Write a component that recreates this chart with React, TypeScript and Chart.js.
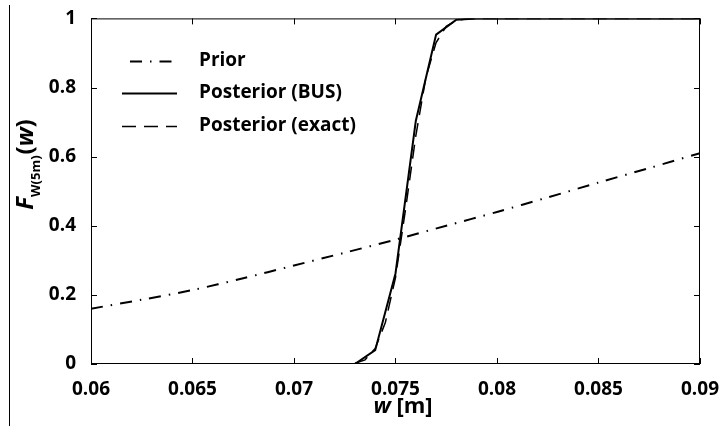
import React, { useEffect, useRef } from "react";
import { Chart, registerables } from "chart.js";

Chart.register(...registerables);

const xTickValues = [0.06, 0.065, 0.07, 0.075, 0.08, 0.085, 0.09];
const xTickLabels = ["0.06", "0.065", "0.07", "0.075", "0.08", "0.085", "0.09"];
const yTickValues = [0, 0.2, 0.4, 0.6, 0.8, 1];
const yTickLabels = ["0", "0.2", "0.4", "0.6", "0.8", "1"];

const priorW = [0.06, 0.0625, 0.065, 0.0675, 0.07, 0.0725, 0.075, 0.0775, 0.08, 0.0825, 0.085, 0.0875, 0.09];
const priorF = [0.16, 0.186, 0.214, 0.248, 0.285, 0.322, 0.36, 0.4, 0.44, 0.482, 0.525, 0.567, 0.61];

const busW = [0.06, 0.065, 0.07, 0.071, 0.072, 0.073, 0.074, 0.075, 0.076, 0.077, 0.078, 0.079, 0.08, 0.085, 0.09];
const busF = [0, 0, 0, 0, 0, 0, 0.04, 0.262, 0.703, 0.953, 0.996, 1, 1, 1, 1];

const exactW = [0.06, 0.065, 0.07, 0.0725, 0.073, 0.0735, 0.074, 0.0745, 0.075, 0.0755, 0.076, 0.0765, 0.077, 0.0775, 0.078, 0.0785, 0.079, 0.085, 0.09];
const exactF = [0, 0, 0, 0, 0.002, 0.012, 0.045, 0.12, 0.25, 0.45, 0.66, 0.83, 0.93, 0.977, 0.994, 0.999, 1, 1, 1];

const seriesNames = ["Prior", "Posterior (BUS)", "Posterior (exact)"];

const FONT = "'Open Sans', 'DejaVu Sans', sans-serif";

const toPts = (xs: number[], ys: number[]) => xs.map((x, i) => ({ x, y: ys[i] }));

const decorPlugin = {
  id: "decor",
  afterDraw(chart: any) {
    const { ctx, chartArea, scales } = chart;
    const { left, right, top, bottom } = chartArea;
    ctx.save();
    // frame
    ctx.strokeStyle = "#000";
    ctx.lineWidth = 1;
    ctx.setLineDash([]);
    ctx.strokeRect(left + 0.5, top + 0.5, right - left - 1, bottom - top - 1);
    // inward ticks
    const tl = 6;
    ctx.beginPath();
    scales.x.ticks.forEach((t: any) => {
      const px = Math.round(scales.x.getPixelForValue(t.value)) + 0.5;
      ctx.moveTo(px, bottom);
      ctx.lineTo(px, bottom - tl);
      ctx.moveTo(px, top);
      ctx.lineTo(px, top + tl);
    });
    scales.y.ticks.forEach((t: any) => {
      const py = Math.round(scales.y.getPixelForValue(t.value)) + 0.5;
      ctx.moveTo(left, py);
      ctx.lineTo(left + tl, py);
      ctx.moveTo(right, py);
      ctx.lineTo(right - tl, py);
    });
    ctx.stroke();
    // left vertical rule
    ctx.beginPath();
    ctx.moveTo(9.5, 5);
    ctx.lineTo(9.5, 426);
    ctx.stroke();

    // legend
    const ds = chart.data.datasets;
    const rows = [61, 93, 126];
    const offsets = [21.5, 0, 0];
    ctx.textBaseline = "middle";
    ctx.textAlign = "left";
    ctx.fillStyle = "#000";
    ctx.font = `bold 19px ${FONT}`;
    ds.forEach((d: any, i: number) => {
      const y = Math.round(rows[i]) + 0.5;
      ctx.beginPath();
      ctx.setLineDash(d.borderDash || []);
      ctx.lineDashOffset = offsets[i];
      ctx.lineWidth = d.borderWidth;
      ctx.strokeStyle = d.borderColor;
      ctx.moveTo(122, y);
      ctx.lineTo(177, y);
      ctx.stroke();
      ctx.setLineDash([]);
      ctx.lineDashOffset = 0;
      ctx.fillText(d.label, 199, rows[i]);
    });

    // x title
    ctx.textBaseline = "alphabetic";
    const xt1 = "w";
    const xt2 = " [m]";
    ctx.font = `italic bold 22px ${FONT}`;
    const w1 = ctx.measureText(xt1).width;
    ctx.font = `bold 22px ${FONT}`;
    const w2 = ctx.measureText(xt2).width;
    const sx = 403 - (w1 + w2) / 2;
    ctx.font = `italic bold 22px ${FONT}`;
    ctx.fillText(xt1, sx, 413);
    ctx.font = `bold 22px ${FONT}`;
    ctx.fillText(xt2, sx + w1, 413);

    // y title with subscript
    ctx.translate(33, 165);
    ctx.rotate(-Math.PI / 2);
    const parts = [
      { t: "F", f: `italic bold 24px ${FONT}`, dy: 0 },
      { t: "W(5m)", f: `bold 13px ${FONT}`, dy: 7 },
      { t: "(", f: `bold 24px ${FONT}`, dy: 0 },
      { t: "w", f: `italic bold 24px ${FONT}`, dy: 0 },
      { t: ")", f: `bold 24px ${FONT}`, dy: 0 },
    ];
    let total = 0;
    const widths = parts.map((p) => {
      ctx.font = p.f;
      const w = ctx.measureText(p.t).width;
      total += w;
      return w;
    });
    let cx = -total / 2;
    parts.forEach((p, i) => {
      ctx.font = p.f;
      ctx.fillText(p.t, cx, p.dy);
      cx += widths[i] + (i === 1 ? 1 : 0);
    });
    ctx.restore();
  },
};

export default function App() {
  const ref = useRef<HTMLCanvasElement | null>(null);
  useEffect(() => {
    if (!ref.current) return;
    const chart = new Chart(ref.current, {
      type: "line",
      data: {
        datasets: [
          {
            label: seriesNames[0],
            data: toPts(priorW, priorF),
            borderColor: "#000",
            borderWidth: 2,
            borderDash: [12, 8, 1.5, 8],
            pointRadius: 0,
            tension: 0.3,
            fill: false,
          },
          {
            label: seriesNames[1],
            data: toPts(busW, busF),
            borderColor: "#000",
            borderWidth: 2,
            borderDash: [],
            pointRadius: 0,
            tension: 0,
            fill: false,
          },
          {
            label: seriesNames[2],
            data: toPts(exactW, exactF),
            borderColor: "#000",
            borderWidth: 1.5,
            borderDash: [14, 8],
            pointRadius: 0,
            tension: 0,
            fill: false,
          },
        ],
      },
      options: {
        responsive: false,
        animation: false,
        layout: { padding: { top: 17, right: 20, left: 0, bottom: 0 } },
        plugins: { legend: { display: false }, tooltip: { enabled: false } },
        scales: {
          x: {
            type: "linear",
            min: 0.06,
            max: 0.09,
            grid: { display: false },
            border: { display: false },
            afterBuildTicks: (s: any) => {
              s.ticks = xTickValues.map((v) => ({ value: v }));
            },
            afterFit: (s: any) => {
              s.height = 66;
            },
            ticks: {
              autoSkip: false,
              maxRotation: 0,
              padding: 6,
              color: "#000",
              font: { family: FONT, size: 19, weight: "bold" },
              callback: (v: any) => {
                const i = xTickValues.findIndex((t) => Math.abs(t - v) < 1e-9);
                return i >= 0 ? xTickLabels[i] : "";
              },
            },
          },
          y: {
            type: "linear",
            min: 0,
            max: 1,
            grid: { display: false },
            border: { display: false },
            afterBuildTicks: (s: any) => {
              s.ticks = yTickValues.map((v) => ({ value: v }));
            },
            afterFit: (s: any) => {
              s.width = 91;
            },
            ticks: {
              padding: 7,
              color: "#000",
              font: { family: FONT, size: 19, weight: "bold" },
              callback: (v: any) => {
                const i = yTickValues.findIndex((t) => Math.abs(t - v) < 1e-9);
                return i >= 0 ? yTickLabels[i] : "";
              },
            },
          },
        },
      },
      plugins: [decorPlugin],
    });
    return () => chart.destroy();
  }, []);
  return (
    <div style={{ position: "absolute", left: 0, top: 0, width: 725, height: 430, background: "#fff" }}>
      <canvas ref={ref} width={725} height={430} />
    </div>
  );
}
